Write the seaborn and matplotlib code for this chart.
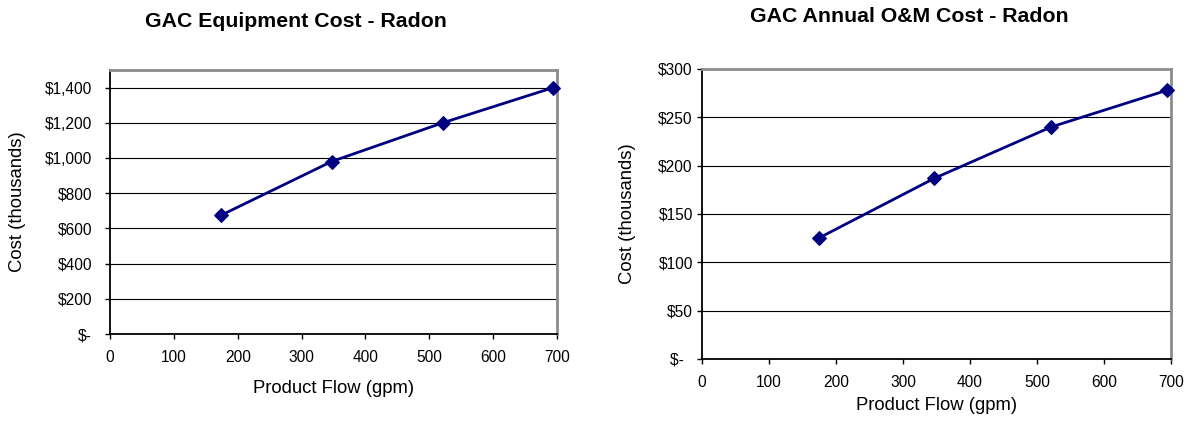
import matplotlib
matplotlib.use("Agg")
import matplotlib.pyplot as plt
import seaborn as sns
import pandas as pd
from matplotlib.ticker import FuncFormatter, MultipleLocator

sns.set_style("white")
plt.rcParams['font.family'] = ['Liberation Sans', 'DejaVu Sans']
plt.rcParams['text.color'] = 'black'
plt.rcParams['axes.labelcolor'] = 'black'
plt.rcParams['xtick.color'] = 'black'
plt.rcParams['ytick.color'] = 'black'

flow_gpm = [174, 347, 521, 694]
equipment_cost = [675, 980, 1200, 1400]
om_cost = [125, 187, 240, 278]

titles = ["GAC Equipment Cost - Radon", "GAC Annual O&M Cost - Radon"]
xlabel = "Product Flow (gpm)"
ylabel = "Cost (thousands)"

fig = plt.figure(figsize=(11.88, 4.22), dpi=100)
ax1 = fig.add_axes([0.0926, 0.2085, 0.3763, 0.6256])
ax2 = fig.add_axes([0.5909, 0.1493, 0.3948, 0.6872])

def money_left(v, pos):
    if v == 0:
        return "$-"
    return "${:,.0f}".format(v)

def money_right(v, pos):
    if v == 0:
        return "$-  "
    return "${:,.0f}".format(v)

specs = [
    # ax, values, ymax, step, formatter, ytick pad, title xy, ylabel x, xlabel y
    (ax1, equipment_cost, 1500, 200, money_left, 9.4, (0.2492, 0.9486), -0.208, -0.208),
    (ax2, om_cost, 300, 50, money_right, 3.0, (0.7652, 0.9604), -0.158, -0.162),
]
for (ax, vals, ymax, step, fmt, ypad, txy, ylx, xly), title in zip(specs, titles):
    df = pd.DataFrame({"flow": flow_gpm, "cost": vals})
    sns.lineplot(data=df, x="flow", y="cost", ax=ax, color="#000080",
                 marker="D", markersize=7, markeredgecolor="#000080",
                 linewidth=2, zorder=5, clip_on=False)
    ax.set_xlim(0, 700)
    ax.set_ylim(0, ymax)
    ax.xaxis.set_major_locator(MultipleLocator(100))
    ax.yaxis.set_major_locator(MultipleLocator(step))
    ax.yaxis.set_major_formatter(FuncFormatter(fmt))
    ax.grid(axis="y", color="black", linewidth=0.8)
    ax.grid(axis="x", visible=False)
    ax.set_axisbelow(True)
    for s in ("top", "right"):
        ax.spines[s].set_color("#8c8c8c")
        ax.spines[s].set_linewidth(2.0)
    for s in ("left", "bottom"):
        ax.spines[s].set_color("black")
        ax.spines[s].set_linewidth(1.3)
    ax.tick_params(axis="both", which="major", direction="out", length=3.6,
                   width=1, color="black", labelsize=11.2, left=True, bottom=True)
    ax.tick_params(axis="x", pad=7.6)
    ax.tick_params(axis="y", pad=ypad)
    ax.set_xlabel(xlabel, fontsize=13.3)
    ax.set_ylabel(ylabel, fontsize=13.3)
    ax.yaxis.label.set_va("center")
    ax.xaxis.label.set_va("center")
    ax.yaxis.set_label_coords(ylx, 0.5)
    ax.xaxis.set_label_coords(0.5, xly)
    fig.text(txy[0], txy[1], title, ha="center", va="center",
             fontsize=15.3, fontweight="bold")

fig.savefig("out.png", dpi=100)
